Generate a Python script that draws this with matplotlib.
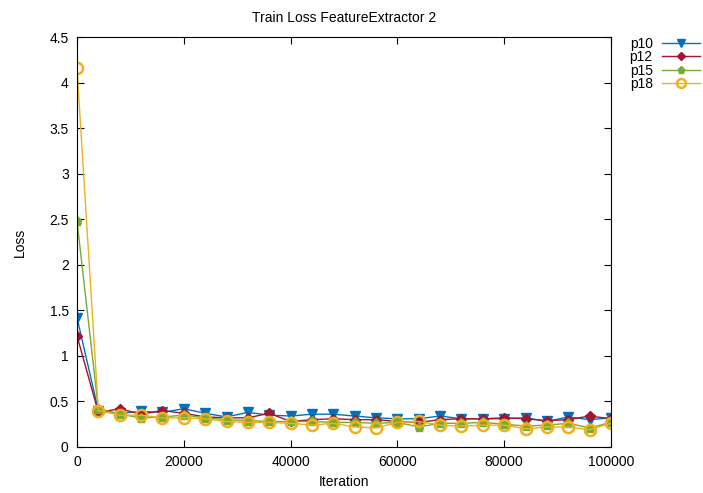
import numpy as np
import matplotlib
matplotlib.use('Agg')
import matplotlib.pyplot as plt

plt.rcParams['font.family'] = ['Liberation Sans', 'DejaVu Sans']

# Datos
iteraciones = np.arange(0, 100001, 4000)
p10 = [1.42, 0.40, 0.37, 0.39, 0.38, 0.42, 0.37, 0.33, 0.38, 0.35, 0.34, 0.36, 0.36,
       0.34, 0.32, 0.31, 0.31, 0.34, 0.31, 0.31, 0.31, 0.32, 0.28, 0.33, 0.30, 0.32]
p12 = [1.22, 0.38, 0.42, 0.36, 0.40, 0.37, 0.33, 0.32, 0.32, 0.37, 0.28, 0.30, 0.31,
       0.30, 0.30, 0.28, 0.27, 0.30, 0.31, 0.31, 0.32, 0.31, 0.29, 0.30, 0.34, 0.31]
p15 = [2.48, 0.42, 0.36, 0.32, 0.33, 0.35, 0.32, 0.30, 0.29, 0.28, 0.28, 0.28, 0.27,
       0.27, 0.26, 0.27, 0.22, 0.26, 0.26, 0.27, 0.25, 0.23, 0.24, 0.26, 0.21, 0.27]
p18 = [4.16, 0.40, 0.35, 0.35, 0.32, 0.32, 0.31, 0.28, 0.27, 0.27, 0.26, 0.24, 0.26,
       0.22, 0.21, 0.27, 0.28, 0.24, 0.23, 0.24, 0.24, 0.20, 0.22, 0.22, 0.19, 0.26]

fig = plt.figure(figsize=(7.03, 4.93), dpi=100)
ax = fig.add_axes([77 / 703, 46 / 493, 534 / 703, 410 / 493])

lw = 1.0
ax.plot(iteraciones, p10, color='#0072bd', marker='v', markersize=6.5, lw=lw, label='p10')
ax.plot(iteraciones, p12, color='#a2142f', marker='D', markersize=5, lw=lw, label='p12')
ax.plot(iteraciones, p15, color='#77ac30', marker='p', markersize=6.5, lw=lw, label='p15')
ax.plot(iteraciones, p18, color='#edb120', marker='o', markersize=8, lw=lw,
        markerfacecolor='none', markeredgewidth=1.8, label='p18')

ax.set_xlim(0, 100000)
ax.set_ylim(0, 4.5)
ax.set_xticks([0, 20000, 40000, 60000, 80000, 100000])
ax.set_yticks(np.arange(0, 4.51, 0.5))
ax.set_yticklabels(['0', '0.5', '1', '1.5', '2', '2.5', '3', '3.5', '4', '4.5'])
ax.tick_params(direction='in', top=True, right=True, length=5, labelsize=10, pad=6)
ax.set_xlabel('Iteration', fontsize=10, labelpad=4)
ax.set_ylabel('Loss', fontsize=10, labelpad=16)
ax.set_title('Train Loss FeatureExtractor 2', fontsize=10, pad=11)

leg = ax.legend(loc='upper right', bbox_to_anchor=(700 / 703, 456 / 493),
                bbox_transform=fig.transFigure, frameon=False,
                markerfirst=False, fontsize=10, handlelength=2.75,
                labelspacing=-0.05, borderpad=0.0, borderaxespad=0.0,
                handletextpad=0.65, markerscale=0.8)

fig.savefig('out.png', dpi=100)
